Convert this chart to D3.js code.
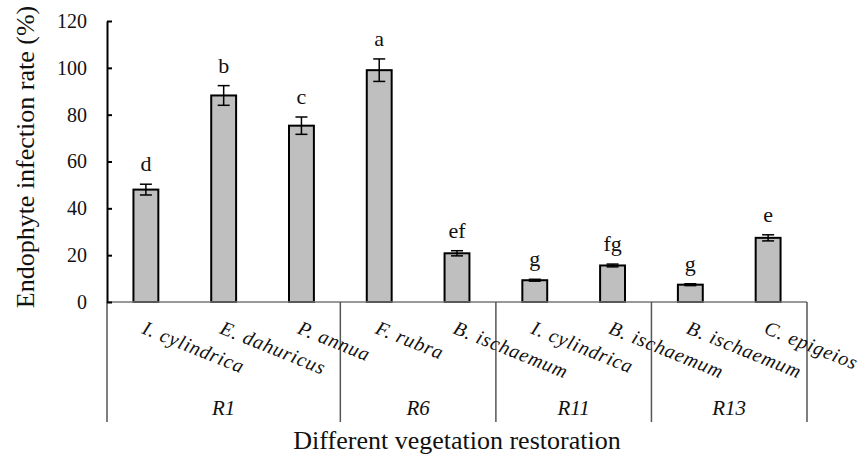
<!DOCTYPE html>
<html>
<head>
<meta charset="utf-8">
<script src="https://cdn.jsdelivr.net/npm/d3@7"></script>
<style>
	body { margin: 0; background: #fff; }
	text { font-family: "Times New Roman", "Liberation Serif", serif; fill: #111; }
</style>
</head>
<body>
<div id="chart"></div>
<script>
(function(){
	// data
	var species = ["I. cylindrica", "E. dahuricus", "P. annua", "F. rubra", "B. ischaemum",
		"I. cylindrica", "B. ischaemum", "B. ischaemum", "C. epigeios"];
	var sites = ["R1", "R1", "R1", "R6", "R6", "R11", "R11", "R13", "R13"];
	var infection = [48.0, 88.2, 75.3, 99.0, 20.8, 9.3, 15.6, 7.4, 27.4];
	var errors = [2.3, 4.2, 3.7, 4.8, 1.1, 0.4, 0.6, 0.4, 1.3];
	var letters = ["d", "b", "c", "a", "ef", "g", "fg", "g", "e"];
	var yTicks = [0, 20, 40, 60, 80, 100, 120];

	var width = 866,
		height = 457;

	var serif = "'Times New Roman', 'Liberation Serif', serif";

	var svg = d3.select("#chart")
		.append("svg")
		.attr("width", width)
		.attr("height", height)

	var left = 107, right = 807, top = 21, bottom = 302;

	var idx = d3.range(species.length);

	var x = d3.scaleBand()
		.domain(idx)
		.range([left, right])
		.paddingInner(0.68)
		.paddingOuter(0.34)

	var y = d3.scaleLinear()
		.domain([0, 120])
		.range([bottom, top])

	// bars
	svg.selectAll(".bar")
		.data(idx)
		.enter().append("rect")
		.attr("class", "bar")
		.attr("x", function(i){ return x(i) })
		.attr("y", function(i){ return y(infection[i]) })
		.attr("width", x.bandwidth())
		.attr("height", function(i){ return y(0) - y(infection[i]) })
		.attr("fill", "#bfbfbf")
		.attr("stroke", "#000")
		.attr("stroke-width", 2)

	// error bars
	var eb = svg.selectAll(".err")
		.data(idx)
		.enter().append("g")
		.attr("class", "err")
		.attr("stroke", "#000")
		.attr("stroke-width", 1.5)
		.attr("transform", function(i){ return "translate(" + (x(i) + x.bandwidth()/2) + ",0)" })
	eb.append("line")
		.attr("y1", function(i){ return y(infection[i] + errors[i]) })
		.attr("y2", function(i){ return y(infection[i] - errors[i]) })
	eb.append("line")
		.attr("x1", -6).attr("x2", 6)
		.attr("y1", function(i){ return y(infection[i] + errors[i]) })
		.attr("y2", function(i){ return y(infection[i] + errors[i]) })
	eb.append("line")
		.attr("x1", -6).attr("x2", 6)
		.attr("y1", function(i){ return y(infection[i] - errors[i]) })
		.attr("y2", function(i){ return y(infection[i] - errors[i]) })

	// significance letters
	svg.selectAll(".sig")
		.data(idx)
		.enter().append("text")
		.attr("class", "sig")
		.attr("x", function(i){ return x(i) + x.bandwidth()/2 })
		.attr("y", function(i){ return y(infection[i] + errors[i]) - 13 })
		.attr("text-anchor", "middle")
		.style("font-size", "22px")
		.text(function(i){ return letters[i] })

	// x baseline
	svg.append("line")
		.attr("x1", left).attr("x2", right)
		.attr("y1", y(0)).attr("y2", y(0))
		.attr("stroke", "#777")
		.attr("stroke-width", 1.5)

	// group dividers
	var groups = [];
	sites.forEach(function(s, i){
		if (!groups.length || groups[groups.length-1].name !== s) groups.push({name: s, first: i, last: i});
		else groups[groups.length-1].last = i;
	});
	var step = x.step();
	var edges = [left].concat(groups.map(function(g){ return left + step*(g.last+1) }));
	svg.selectAll(".div")
		.data(edges)
		.enter().append("line")
		.attr("class", "div")
		.attr("x1", function(d){ return d }).attr("x2", function(d){ return d })
		.attr("y1", y(0)).attr("y2", 422)
		.attr("stroke", "#555")
		.attr("stroke-width", 1.5)

	svg.selectAll(".site")
		.data(groups)
		.enter().append("text")
		.attr("class", "site")
		.attr("x", function(g){ return left + step*(g.first + g.last + 1)/2 })
		.attr("y", 415)
		.attr("text-anchor", "middle")
		.style("font-size", "21px")
		.style("font-style", "italic")
		.text(function(g){ return g.name })

	// species labels, slanted
	svg.selectAll(".sp")
		.data(idx)
		.enter().append("text")
		.attr("class", "sp")
		.attr("transform", function(i){ return "translate(" + (x(i) + x.bandwidth()/2 - 5) + ",333) rotate(22)" })
		.style("font-family", serif)
		.style("font-size", "20px")
		.style("font-style", "italic")
		.style("letter-spacing", "0.8px")
		.text(function(i){ return species[i] })

	// y axis
	var yAxis = svg.append("g")
		.attr("transform", "translate(" + left + ",0)")
		.call(d3.axisLeft(y).tickValues(yTicks).tickSize(-5).tickSizeOuter(0).tickPadding(20))
	yAxis.attr("font-family", null)
	yAxis.select(".domain").attr("stroke", "#000").attr("stroke-width", 2)
	yAxis.selectAll(".tick line").attr("stroke", "#000").attr("stroke-width", 2)
	yAxis.selectAll(".tick text")
		.style("font-family", serif)
		.style("font-size", "20px")
		.attr("fill", "#111")

	// titles
	svg.append("text")
		.attr("transform", "translate(34,157) rotate(-90)")
		.attr("text-anchor", "middle")
		.style("font-size", "26px")
		.text("Endophyte infection rate (%)")

	svg.append("text")
		.attr("x", (left + right)/2)
		.attr("y", 449)
		.attr("text-anchor", "middle")
		.style("font-size", "26px")
		.text("Different vegetation restoration")
})();
</script>
</body>
</html>
